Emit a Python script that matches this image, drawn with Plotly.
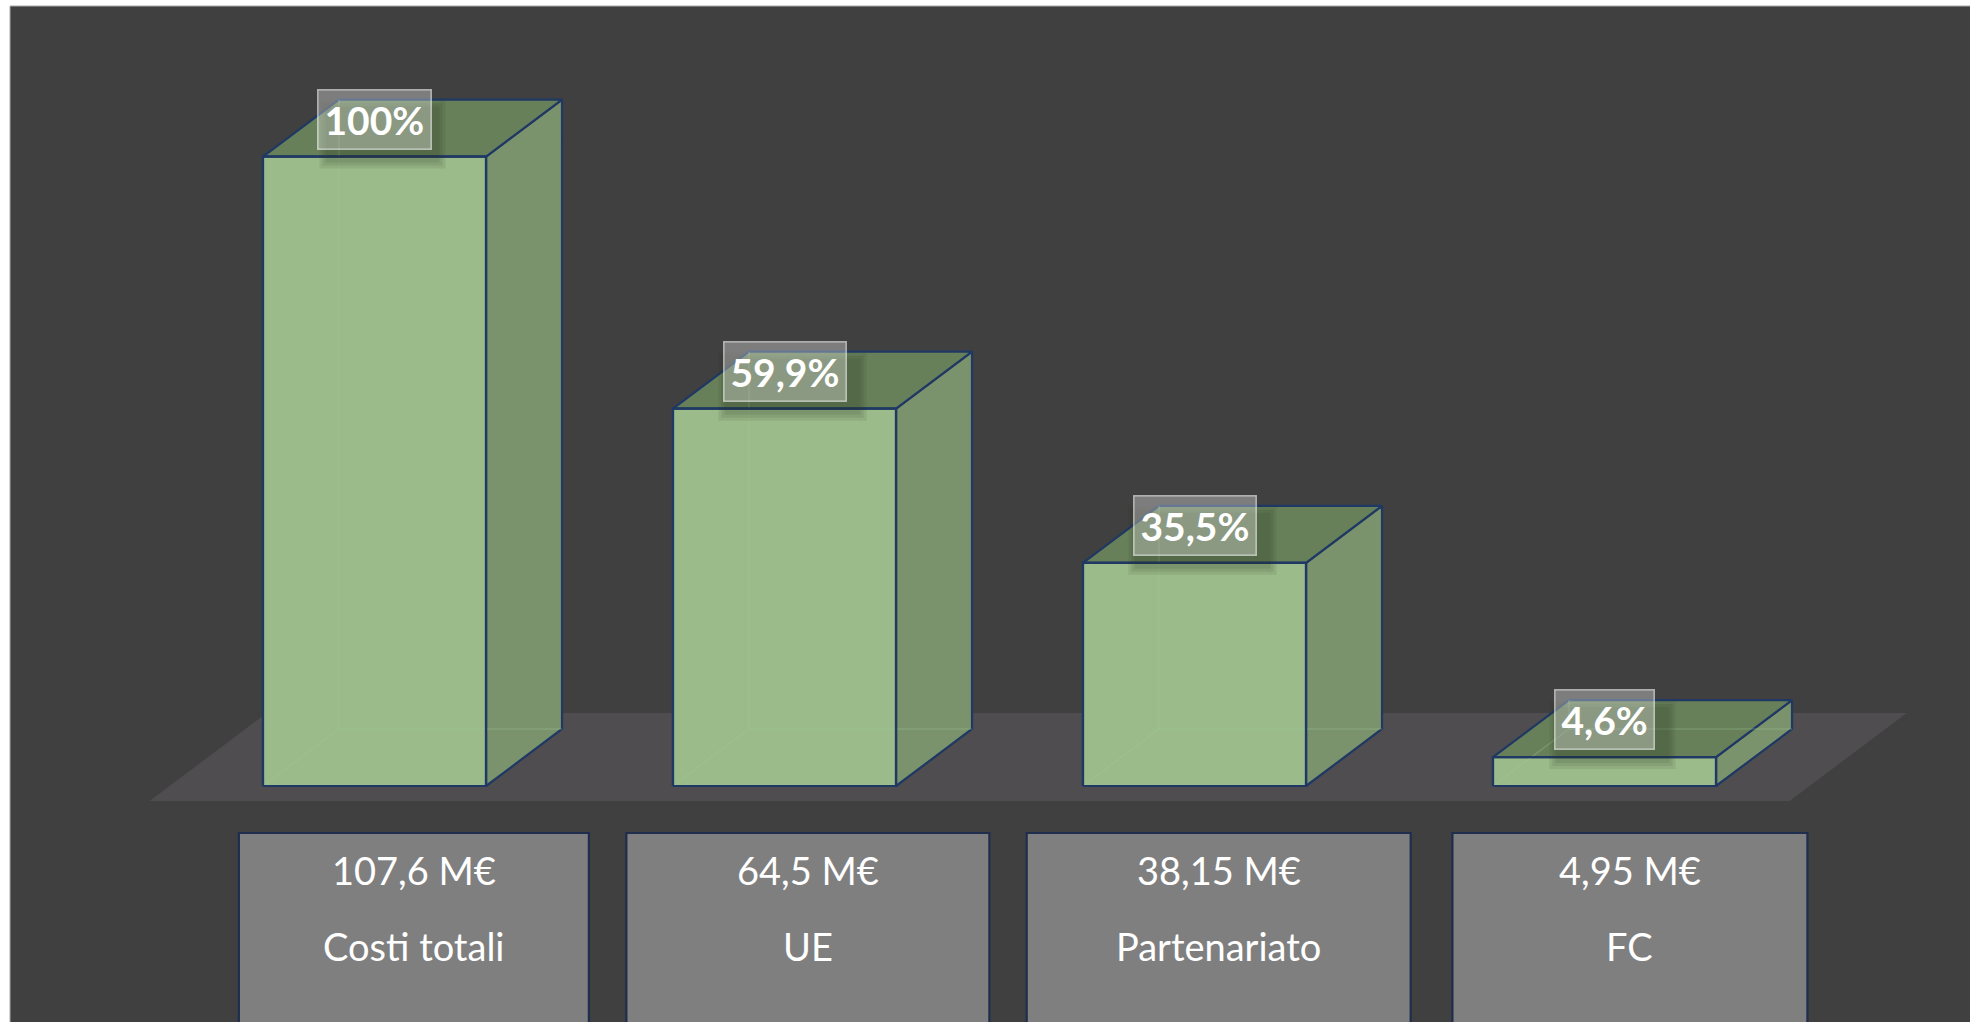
import plotly.graph_objects as go

# ---------------- data ----------------
categories = ["Costi totali", "UE", "Partenariato", "FC"]
amounts_meur = [107.6, 64.5, 38.15, 4.95]
amount_labels = ["107,6 M€", "64,5 M€", "38,15 M€", "4,95 M€"]
share_labels = ["100%", "59,9%", "35,5%", "4,6%"]

# ---------------- layout / style constants ----------------
W, H = 1970, 1022
SLOT_PX = 410.0        # pixels per category slot
X0_PX = 374.5          # pixel centre of the first category
BASE_PX = 786.0        # pixel row of value 0 (front bottom edge)
PX_PER_VAL = 5.85      # pixels per M€
x_range = [(0 - X0_PX) / SLOT_PX, (W - X0_PX) / SLOT_PX]
y_range = [(BASE_PX - H) / PX_PER_VAL, BASE_PX / PX_PER_VAL]

HALF_W = 0.272                 # half bar width (slot units)
DX = 76 / SLOT_PX              # oblique depth offset (x)
DY = 57 / PX_PER_VAL           # oblique depth offset (y)
FLOOR_T0, FLOOR_T1 = -0.263, 1.28

BG = "#404040"
FLOOR = "#4F4D4F"
FRONT = "#9BBC8A"
TOP = "#67805A"
SIDE = "#7A936C"
EDGE = "#1F3864"
HIDDEN = "rgba(160,200,150,0.28)"
FONT = "Lato"

fig = go.Figure()


def poly(xs, ys, fill, line_color=EDGE, width=2.2):
    fig.add_trace(go.Scatter(
        x=xs + [xs[0]], y=ys + [ys[0]], mode="lines", fill="toself",
        fillcolor=fill, line=dict(color=line_color, width=width),
        hoverinfo="skip", showlegend=False))


def seg(xs, ys, color, width):
    fig.add_trace(go.Scatter(x=xs, y=ys, mode="lines",
                             line=dict(color=color, width=width),
                             hoverinfo="skip", showlegend=False))


n = len(categories)
# floor
fx = [-0.5 + FLOOR_T0 * DX, n - 0.5 + FLOOR_T0 * DX,
      n - 0.5 + FLOOR_T1 * DX, -0.5 + FLOOR_T1 * DX]
fy = [FLOOR_T0 * DY, FLOOR_T0 * DY, FLOOR_T1 * DY, FLOOR_T1 * DY]
poly(fx, fy, FLOOR, line_color=FLOOR, width=0)

# bars
for i, v in enumerate(amounts_meur):
    l, r = i - HALF_W, i + HALF_W
    # right face
    poly([r, r + DX, r + DX, r], [0, DY, v + DY, v], SIDE)
    # top face
    poly([l, r, r + DX, l + DX], [v, v, v + DY, v + DY], TOP)
    # front face
    poly([l, r, r, l], [0, 0, v, v], FRONT)
    # faint hidden edges seen through the translucent front
    seg([l, l + DX, r + DX], [0, DY, DY], HIDDEN, 1.5)
    seg([l + DX, l + DX], [DY, v + DY], HIDDEN, 1.5)
    # re-draw front outline so it stays crisp
    seg([l, r, r, l, l], [0, 0, v, v, 0], EDGE, 2.2)

shapes = []
annotations = []

# dark background panel with thin light border (white margin at top/left)
shapes.append(dict(type="rect", xref="paper", yref="paper",
                   x0=10 / W, x1=1.01, y0=-0.01, y1=1 - 6 / H,
                   fillcolor=BG, line=dict(color="#A8A8A8", width=1),
                   layer="below"))

# percentage labels on top of the bars, with a soft shadow underneath
for i, (v, s) in enumerate(zip(amounts_meur, share_labels)):
    half = (22 * len(s) + 22) / 2
    for k in range(3):
        g = 3 * k
        shapes.append(dict(type="rect", xref="x", yref="y",
                           xsizemode="pixel", ysizemode="pixel",
                           xanchor=i, yanchor=v,
                           x0=-half + 6 - g, x1=half + 10 + g,
                           y0=-6 - g, y1=50 + g,
                           fillcolor="rgba(35,45,30,0.10)",
                           line=dict(width=0), layer="above"))
    annotations.append(dict(
        x=i, y=v, xref="x", yref="y", text=f"<b>{s}</b>", showarrow=False,
        xanchor="center", yanchor="bottom", yshift=7,
        font=dict(family=FONT, size=39, color="white"),
        bgcolor="rgba(255,255,255,0.32)",
        bordercolor="rgba(255,255,255,0.55)", borderwidth=1.5, borderpad=6))

# category boxes below the floor
box_widths_px = [350, 363, 384, 355]
box_shifts = [0.096, 0.057, 0.059, 0.062]
box_top = 1 - 833 / H
for i, (cat, amt) in enumerate(zip(categories, amount_labels)):
    c = i + box_shifts[i]
    hw = box_widths_px[i] / 2 / SLOT_PX
    shapes.append(dict(type="rect", xref="x", yref="paper",
                       x0=c - hw, x1=c + hw, y0=-0.05, y1=box_top,
                       fillcolor="#7F7F7F", line=dict(color="#1F2D4E", width=2.2),
                       layer="above"))
    annotations.append(dict(x=c, y=1 - 870 / H, xref="x", yref="paper",
                            text=amt, showarrow=False, xanchor="center",
                            yanchor="middle",
                            font=dict(family=FONT, size=38, color="white")))
    annotations.append(dict(x=c, y=1 - 946 / H, xref="x", yref="paper",
                            text=cat, showarrow=False, xanchor="center",
                            yanchor="middle",
                            font=dict(family=FONT, size=38, color="white")))

fig.update_layout(
    width=W, height=H, margin=dict(l=0, r=0, t=0, b=0),
    paper_bgcolor="white", plot_bgcolor="rgba(0,0,0,0)",
    xaxis=dict(range=x_range, visible=False, fixedrange=True),
    yaxis=dict(range=y_range, visible=False, fixedrange=True),
    shapes=shapes, annotations=annotations, showlegend=False,
)

fig.write_html("out.html", config={"displayModeBar": False},
               post_script="document.body.style.margin='0';"
                           "document.body.style.overflow='hidden';")
